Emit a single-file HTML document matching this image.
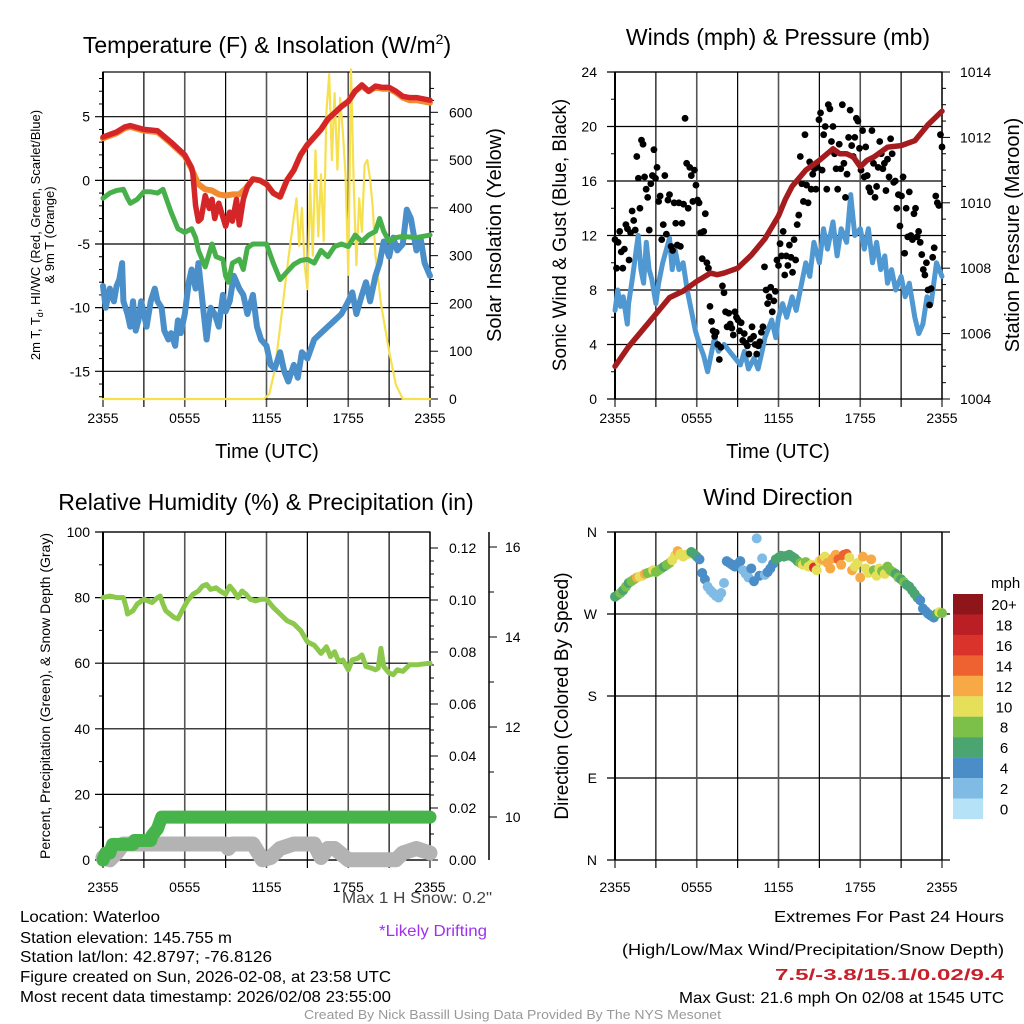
<!DOCTYPE html>
<html><head><meta charset="utf-8"><style>
html,body{margin:0;padding:0;background:#fff;}
svg{display:block;font-family:"Liberation Sans",sans-serif;}
</style></head><body>
<svg id="c" width="1024" height="1024" viewBox="0 0 1024 1024">
<g id="p1"></g>
<g id="p2"></g>
<g id="p3"></g>
<g id="p4"></g>
<g id="txt">
<text x="20" y="922" font-size="16" textLength="140" lengthAdjust="spacingAndGlyphs">Location: Waterloo</text>
<text x="20" y="943" font-size="16" textLength="212" lengthAdjust="spacingAndGlyphs">Station elevation: 145.755 m</text>
<text x="20" y="962" font-size="16" textLength="252" lengthAdjust="spacingAndGlyphs">Station lat/lon: 42.8797; -76.8126</text>
<text x="20" y="982" font-size="16" textLength="371" lengthAdjust="spacingAndGlyphs">Figure created on Sun, 2026-02-08, at 23:58 UTC</text>
<text x="20" y="1002" font-size="16" textLength="371" lengthAdjust="spacingAndGlyphs">Most recent data timestamp: 2026/02/08 23:55:00</text>
<text x="342" y="903" font-size="16" fill="#444" textLength="150" lengthAdjust="spacingAndGlyphs">Max 1 H Snow: 0.2"</text>
<text x="379" y="936" font-size="16" fill="#a030f0" textLength="108" lengthAdjust="spacingAndGlyphs">*Likely Drifting</text>
<text x="774" y="922" font-size="16" textLength="230" lengthAdjust="spacingAndGlyphs">Extremes For Past 24 Hours</text>
<text x="622" y="955" font-size="16" textLength="382" lengthAdjust="spacingAndGlyphs">(High/Low/Max Wind/Precipitation/Snow Depth)</text>
<text x="775" y="980" font-size="16" font-weight="bold" fill="#c8202a" textLength="229" lengthAdjust="spacingAndGlyphs">7.5/-3.8/15.1/0.02/9.4</text>
<text x="679" y="1003" font-size="16" textLength="325" lengthAdjust="spacingAndGlyphs">Max Gust: 21.6 mph On 02/08 at 1545 UTC</text>
<text x="304" y="1019" font-size="13" fill="#999" textLength="417" lengthAdjust="spacingAndGlyphs">Created By Nick Bassill Using Data Provided By The NYS Mesonet</text>
</g>
</svg>
<script>
// ---------- DATA ----------
const xTickLabels=["2355","0555","1155","1755","2355"];
// Panel 1
const tempT=[0,1,1.6,2,3,4,5,6,6.5,6.6,6.8,7,7.2,7.5,7.8,8,8.2,8.5,9,9.3,9.5,9.8,10,10.3,10.6,11,11.5,12,12.5,13,13.5,14,14.5,15,15.5,16,16.5,17,17.5,18,18.5,19,19.5,20,20.5,21,21.5,22,22.5,23,24];
const tempV=[3.4,3.8,4.2,4.3,4.0,3.9,3.0,2.0,1.0,0.5,-2.0,-3.2,-3.0,-1.2,-2.2,-1.5,-3.0,-1.8,-3.6,-2.5,-3.2,-1.5,-3.5,-1.5,-0.5,0.1,0,-0.3,-1.0,-1.3,0,0.8,2,2.8,3.4,4.0,4.8,5.3,5.8,6.2,7.0,7.5,7.0,7.4,7.3,7.3,7.0,6.6,6.5,6.5,6.3];
const t9mT=[0,1,1.6,2,3,4,5,6,6.5,7,7.5,8,8.5,9,9.5,10,10.5,11,11.5,12,12.5,13,13.5,14,14.5,15,15.5,16,16.5,17,17.5,18,18.5,19,19.5,20,20.5,21,21.5,22,22.5,23,24];
const t9mV=[3.3,3.7,4.1,4.2,3.9,3.8,2.9,1.9,0.9,-0.3,-0.7,-0.8,-1.1,-1.2,-1.1,-1.1,-0.6,0.1,0,-0.3,-1.0,-1.3,0,0.8,2,2.8,3.4,4.0,4.8,5.3,5.8,6.2,7.0,7.4,7.0,7.3,7.2,7.2,6.9,6.5,6.3,6.3,6.1];
const dewT=[0,0.5,1,1.5,1.8,2,2.5,3,3.5,4,4.4,5,5.5,6,6.5,6.8,7,7.5,8,8.3,8.8,9,9.2,9.5,10,10.3,10.6,11,12,12.5,13,13.5,14,14.5,15,15.5,16,16.5,17,17.5,18,18.5,19,19.5,20,20.3,20.6,21,21.5,22,23,24];
const dewV=[-1.4,-1.0,-0.8,-0.7,-1.4,-1.8,-1.5,-0.9,-0.9,-1.0,-0.7,-2.5,-3.8,-4.1,-3.8,-4.5,-5.5,-6.8,-5.0,-6.0,-6.2,-7.5,-8.0,-6.5,-6.2,-7.0,-5.3,-5.0,-5.0,-6.5,-7.8,-7.2,-6.6,-6.3,-6.2,-6.5,-5.5,-6.0,-5.2,-5.0,-5.2,-4.3,-4.8,-4.3,-4.0,-3.0,-4.0,-4.8,-4.5,-4.4,-4.5,-4.3];
const wcT=[0,0.2,0.5,0.8,1,1.2,1.4,1.5,1.8,2,2.2,2.4,2.6,2.8,3,3.2,3.5,3.8,4,4.3,4.5,4.8,5,5.3,5.5,5.7,6,6.3,6.5,6.8,7,7.2,7.4,7.6,7.9,8.2,8.5,8.8,9,9.3,9.6,10,10.3,10.6,11,11.3,11.6,12,12.3,12.6,13,13.3,13.6,14,14.3,14.6,15,15.5,16,16.5,17,17.5,18,18.3,18.6,19,19.3,19.6,20,20.3,20.6,21,21.3,21.6,22,22.3,22.6,23,23.3,23.6,24];
const wcV=[-8.3,-10.0,-8.5,-9.5,-8.3,-7.8,-6.5,-9.5,-10.5,-11.5,-9.5,-11.8,-11.0,-9.5,-10.5,-11.5,-9.5,-8.5,-9.5,-10.0,-11.8,-12.5,-12.0,-13.0,-11.0,-12.0,-10.5,-8.0,-7.0,-8.5,-6.5,-8.5,-10.5,-12.5,-10.0,-10.5,-11.5,-9.0,-10.3,-9.5,-7.5,-8.5,-9.0,-10.5,-9.0,-11.5,-12.5,-13.0,-14.5,-14.8,-13.5,-15.0,-15.8,-14.5,-15.5,-13.5,-14.0,-12.5,-12.0,-11.5,-11.0,-10.5,-9.5,-8.8,-10.5,-9.0,-8.0,-9.5,-7.5,-6.5,-4.8,-6.0,-4.5,-5.5,-5.0,-2.3,-3.0,-5.5,-4.5,-6.5,-7.5];
const solarT=[0,11.8,12.2,12.6,13,13.5,14,14.2,14.4,14.6,14.8,15,15.2,15.4,15.6,15.8,16,16.2,16.4,16.6,16.8,17,17.2,17.4,17.6,17.8,18,18.2,18.4,18.6,18.8,19,19.2,19.4,19.6,19.8,20,20.4,21,21.5,22,24];
const solarV=[0,0,10,60,150,270,380,420,320,400,280,230,450,300,520,340,470,330,600,680,500,640,480,630,560,470,260,690,450,280,420,350,490,500,460,400,300,200,100,30,0,0];
// Panel 2
const presT=[0,1,2,3,4,5,6,7,7.5,8,9,10,11,12,12.5,13,14,15,16,16.5,17,17.5,18,18.5,19,20,21,22,23,24];
const presV=[1005.0,1005.6,1006.1,1006.6,1007.1,1007.3,1007.6,1007.85,1007.8,1007.85,1008.0,1008.4,1008.9,1009.6,1010.1,1010.5,1011.0,1011.3,1011.65,1011.5,1011.5,1011.4,1011.1,1011.3,1011.4,1011.7,1011.75,1011.9,1012.4,1012.8];
const windT=[0,0.2,0.4,0.6,0.9,1,1.3,1.5,1.7,1.9,2.1,2.3,2.5,2.7,3,3.2,3.5,4,4.2,4.4,4.7,5,5.3,5.6,5.9,6.2,6.5,6.8,7,7.3,7.6,8,8.4,8.8,9.2,9.5,9.8,10.2,10.5,10.8,11,11.5,11.8,12,12.3,12.6,13,13.3,13.6,14,14.3,14.6,15,15.3,15.6,16,16.3,16.6,17,17.3,17.6,18,18.3,18.6,18.9,19.2,19.5,19.8,20,20.3,20.6,21,21.3,21.6,22,22.3,22.6,22.9,23.2,23.6,24];
const windV=[6.5,8.0,6.8,7.5,5.5,7.0,9.0,10.5,12.0,9.5,8.5,11.5,9.5,8.8,7.0,8.5,10.0,11.8,9.5,11.0,9.5,10.0,8.0,6.5,5.0,4.0,3.2,2.0,3.0,4.5,3.5,4.0,3.5,3.0,2.5,3.5,2.2,3.0,2.2,3.5,4.5,5.8,4.5,6.0,7.0,6.0,7.5,6.5,8.0,10.0,9.0,11.5,10.0,12.5,11.0,13.0,10.5,12.5,11.5,15.0,12.0,12.5,11.0,12.5,10.0,11.5,9.5,10.5,8.5,9.5,8.0,9.0,7.5,8.5,6.0,4.8,5.5,7.5,7.0,10.0,9.0];
const gustV=[11.7,9.6,11.5,12.3,10.8,9.6,11.0,12.8,12.5,10.2,12.2,13.8,13.1,12.4,17.8,16.2,14.0,19.0,18.7,16.3,15.4,14.8,12.4,15.8,16.4,18.3,16.2,17.0,14.5,14.9,11.7,12.8,16.4,12.1,14.6,15.0,11.2,10.9,14.4,12.9,11.3,14.4,11.2,12.9,14.3,20.6,17.3,14.0,17.0,16.4,14.5,16.8,15.7,14.6,14.4,12.2,10.3,12.3,13.6,10.0,9.6,6.8,5.7,5.0,4.6,4.9,4.0,2.9,3.8,8.3,7.8,6.4,5.3,6.3,5.5,5.2,4.7,6.4,6.0,5.8,5.0,5.6,4.3,4.8,4.1,3.9,3.3,4.4,5.3,4.6,4.0,3.3,3.9,4.2,4.9,5.3,9.7,8.0,7.0,7.5,8.2,6.4,7.2,7.9,10.2,9.8,11.4,10.5,12.3,9.1,10.5,9.8,11.3,10.4,9.3,11.7,10.2,12.8,13.5,17.8,15.8,14.5,19.4,15.7,14.4,17.4,15.4,16.5,16.9,15.4,17.0,20.5,21.0,16.8,19.4,20.0,15.4,21.6,21.3,18.9,20.0,18.0,16.9,15.4,18.7,16.9,21.6,17.3,14.8,16.5,19.2,21.2,18.6,17.8,19.2,20.6,20.4,18.4,16.8,19.7,16.3,18.5,16.4,15.5,15.2,19.7,17.3,14.8,15.6,17.0,18.9,18.0,16.9,17.3,15.3,17.6,16.3,19.1,18.0,15.9,16.0,14.0,15.0,12.7,14.9,16.3,10.7,14.0,11.9,15.2,12.0,11.7,13.6,14.0,11.9,12.3,11.5,10.6,9.5,9.1,10.0,8.0,6.9,8.1,10.4,11.1,14.9,14.4,14.2,19.4,18.5];
// Panel 3
const rhT=[0,0.5,1,1.5,1.7,1.8,2.2,2.5,3,3.3,3.6,4,4.2,4.4,4.6,4.9,5.2,5.5,5.8,6.2,6.6,7,7.3,7.6,7.9,8.3,8.6,9,9.3,9.6,9.9,10.2,10.5,10.8,11.2,11.6,12,12.5,13,13.5,14,14.5,15,15.5,16,16.4,16.7,17,17.3,17.6,18,18.3,18.7,19,19.3,19.7,20,20.2,20.4,20.6,21,21.3,21.6,22,22.5,23,24];
const rhV=[80,80.5,80,80,77,75,76,78,79.5,79,78.5,80,80.5,78,76,75,74,73.5,76,79,81,82,83.5,84,82.5,83,82,81,83.5,82,80,82,81,79.5,79,79.5,79.5,77,75,73,72,70,66.5,65.5,63,65,62,63.5,60.5,61,58,61,61.5,62.5,59,58.5,58,58.5,64.5,59,57,56.5,58,57.5,59.5,59.5,60];
const precipT=[0,0.2,0.5,0.7,2.2,2.3,3.5,3.6,4.0,4.3,24];
const precipV=[0,0.0027,0.0027,0.006,0.006,0.0075,0.0075,0.0095,0.012,0.0165,0.0165];
const snowT=[0,0.5,1,1.5,2,5,9,9.2,9.5,11,11.7,12.3,13,14,15.5,16,16.5,17,18,21.5,22,23,24];
const snowV=[9.1,9.05,9.2,9.4,9.4,9.4,9.4,9.3,9.4,9.4,9.05,9.1,9.3,9.4,9.4,9.1,9.3,9.3,9.05,9.05,9.2,9.3,9.2];
// Panel 4
const dirV=[289,291,293,296,300,304,306,308,310,311,312,314,315,316,318,316,318,320,322,324,326,329,334,339,336,333,335,336,338,336,333,330,315,308,300,296,293,290,288,293,304,328,326,324,322,325,328,318,314,310,320,306,353,312,331,313,316,320,325,330,332,334,333,334,335,333,331,328,326,324,327,322,324,321,318,328,330,333,326,320,331,335,330,324,335,336,332,318,322,326,310,333,320,315,330,318,312,320,317,314,322,318,316,314,310,308,305,302,300,296,292,288,285,276,273,270,268,266,270,272,271];
const dirS=[7,7,8,7,8,7,8,8,12,10,10,12,8,8,10,9,8,8,7,8,9,10,10,12,10,10,11,10,7,7,6,5,4,4,3,3,2,2,2,3,3,4,4,4,4,4,4,3,3,3,4,4,2,4,2,3,4,4,5,6,6,7,6,6,7,6,6,7,9,10,9,10,10,16,11,10,12,10,12,13,13,12,14,12,14,15,11,12,10,11,13,12,11,10,12,9,10,10,9,10,8,8,8,7,8,7,8,7,7,6,6,6,5,5,4,4,4,5,6,10,9];
const cbLabels=["20+","18","16","14","12","10","8","6","4","2","0"];
const cbColors=["#8e161b","#bb1f26","#da332b","#ee6130","#f6a945","#e6df5a","#7cc04a","#4aa570","#4b8ec7","#80bbe5","#b5e2f6"];

// ---------- HELPERS ----------
const NS="http://www.w3.org/2000/svg";
function el(parent,tag,attrs,text){const e=document.createElementNS(NS,tag);for(const k in attrs)e.setAttribute(k,attrs[k]);if(text!==undefined)e.textContent=text;parent.appendChild(e);return e;}
function lin(d0,d1,r0,r1){return v=>r0+(v-d0)*(r1-r0)/(d1-d0);}
function pathD(ts,vs,sx,sy){return ts.map((t,i)=>(i?"L":"M")+sx(t).toFixed(1)+","+sy(vs[i]).toFixed(1)).join("");}

function frame(g,x0,y0,x1,y1,lbly){
  for(let i=0;i<=8;i++){const x=x0+(x1-x0)*i/8;
    const l=el(g,"line",{x1:x,y1:y0,x2:x,y2:y1+8,stroke:i%2?"#000":"#555","stroke-width":i%2?1.2:1.6});
    
    
  }
  xTickLabels.forEach((s,i)=>{const t=el(g,"text",{x:x0+(x1-x0)*i/4,y:lbly,"font-size":14,"text-anchor":"middle"},s);
    
    });
  el(g,"rect",{x:x0,y:y0,width:x1-x0,height:y1-y0,fill:"none",stroke:"#000","stroke-width":1.2});
  el(g,"line",{x1:x0,y1:y0,x2:x0,y2:y1,stroke:"#000","stroke-width":2});
}
function hgrid(g,x0,x1,y,label,lx){const l=el(g,"line",{x1:x0-8,y1:y,x2:x1,y2:y,stroke:"#000","stroke-width":1.2});
  
  
  if(label!==undefined){const t=el(g,"text",{x:lx,y:y+5,"font-size":14,"text-anchor":"end"},label);
  
  }}
function rtick(g,x,y,len,label,lx){el(g,"line",{x1:x,y1:y,x2:x+len,y2:y,stroke:"#000","stroke-width":1});
  if(label!==undefined){const t=el(g,"text",{x:lx,y:y+5,"font-size":14},label);
  
  }}
function vtitle(g,x,y,size,s,name){const t=el(g,"text",{x:x,y:y,"font-size":size,"text-anchor":"middle",transform:`rotate(-90 ${x} ${y})`},s);
  return t;}
function series(g,d,color,w,name){const p=el(g,"path",{d:d,fill:"none",stroke:color,"stroke-width":w,"stroke-linejoin":"round","stroke-linecap":"round"});
  return p;}

// ---------- PANEL 1 ----------
(function(){const g=document.getElementById("p1");
const X0=103,X1=430,Y0=72,Y1=399;
const sx=lin(0,24,X0,X1), sy=lin(-15,5,371.3,116.7), sr=lin(0,600,399,112.3);
const tt=el(g,"text",{x:267,y:53,"font-size":23,"text-anchor":"middle"});

tt.innerHTML='Temperature (F) &amp; Insolation (W/m<tspan dy="-9" font-size="14">2</tspan><tspan dy="9">)</tspan>';
[5,0,-5,-10,-15].forEach(v=>hgrid(g,X0,X1,sy(v),String(v),90));
for(let v=-17;v<=8;v++){if(v%5)el(g,"line",{x1:X0-4,y1:sy(v),x2:X0,y2:sy(v),stroke:"#000"});}
frame(g,X0,Y0,X1,Y1,423);
for(let v=0;v<=650;v+=25){rtick(g,X1,sr(v),v%100?4:8,v%100?undefined:String(v),449);}
vtitle(g,40,235,13,"2m T, T",'left-axis-title').innerHTML='2m T, T<tspan font-size="9" dy="3">d</tspan><tspan dy="-3">, HI/WC (Red, Green, Scarlet/Blue)</tspan>';
vtitle(g,54,235,13,"& 9m T (Orange)",'left-axis-title-line2');
vtitle(g,501,235,20,"Solar Insolation (Yellow)",'right-axis-title');
const xt=el(g,"text",{x:267,y:458,"font-size":20,"text-anchor":"middle"},"Time (UTC)");
series(g,pathD(solarT,solarV,sx,sr),"#f7e04f",2.2,'solar-insolation-line');
series(g,pathD(wcT,wcV,sx,sy),"#4a8fc9",6,'wind-chill-line');
series(g,pathD(dewT,dewV,sx,sy),"#48b04a",5,'dewpoint-line');
series(g,pathD(t9mT,t9mV,sx,sy),"#f28a30",6,'temp-9m-line');
series(g,pathD(tempT,tempV,sx,sy),"#d42528",5.5,'temp-2m-line');
})();

// ---------- PANEL 2 ----------
(function(){const g=document.getElementById("p2");
const X0=615,X1=942,Y0=72,Y1=399;
const sx=lin(0,24,X0,X1), sy=lin(0,24,Y1,Y0), sp=lin(1004,1014,Y1,Y0);
const tt=el(g,"text",{x:778,y:45,"font-size":23,"text-anchor":"middle"},"Winds (mph) & Pressure (mb)");

for(let v=0;v<=24;v+=4)hgrid(g,X0,X1,sy(v),String(v),597);
for(let v=2;v<24;v+=4)el(g,"line",{x1:X0-4,y1:sy(v),x2:X0,y2:sy(v),stroke:"#000"});
frame(g,X0,Y0,X1,Y1,423);
for(let v=1004;v<=1014;v+=0.5){const m=Math.abs(v%2)<1e-6;rtick(g,X1,sp(v),m?8:4,m?String(v):undefined,960);}
vtitle(g,566,235,19,"Sonic Wind & Gust (Blue, Black)",'left-axis-title');
vtitle(g,1019,235,20,"Station Pressure (Maroon)",'right-axis-title');
const xt=el(g,"text",{x:778,y:458,"font-size":20,"text-anchor":"middle"},"Time (UTC)");
series(g,pathD(windT,windV,sx,sy),"#4f98d2",5,'sonic-wind-line');
gustV.forEach((v,i)=>{const c=el(g,"circle",{cx:sx(i*24/(gustV.length-1)),cy:sy(v),r:3.4,fill:"#000"});
  
  });
series(g,pathD(presT,presV,sx,sp),"#a51c1f",5.5,'pressure-line');
})();

// ---------- PANEL 3 ----------
(function(){const g=document.getElementById("p3");
const X0=103,X1=430,Y0=532,Y1=860;
const sx=lin(0,24,X0,X1), sy=lin(0,100,Y1,Y0), sp=lin(0,0.02,Y1,808), ss=lin(10,16,817,547);
const tt=el(g,"text",{x:266,y:510,"font-size":23,"text-anchor":"middle"},"Relative Humidity (%) & Precipitation (in)");

for(let v=0;v<=100;v+=20)hgrid(g,X0,X1,sy(v),String(v),90);
for(let v=10;v<100;v+=20)el(g,"line",{x1:X0-4,y1:sy(v),x2:X0,y2:sy(v),stroke:"#000"});
frame(g,X0,Y0,X1,Y1,892);
for(let v=0;v<=0.125;v+=0.005){const m=Math.round(v*1000)%20===0;rtick(g,X1,sp(v),m?8:4,m?v.toFixed(2):undefined,449);}
const ax=el(g,"line",{x1:489,y1:Y0,x2:489,y2:Y1,stroke:"#000","stroke-width":1.5});
for(let v=10;v<=16;v++){const m=v%2===0;rtick(g,489,ss(v),m?8:5,m?String(v):undefined,505);}
vtitle(g,50,696,14,"Percent, Precipitation (Green), & Snow Depth (Gray)",'left-axis-title');
series(g,pathD(snowT,snowV,sx,ss),"#b3b3b3",15,'snow-depth-line');
series(g,pathD(precipT,precipV,sx,sp),"#46b44a",13,'precipitation-line');
series(g,pathD(rhT,rhV,sx,sy),"#8cc84b",5,'humidity-line');
})();

// ---------- PANEL 4 ----------
(function(){const g=document.getElementById("p4");
const X0=615,X1=942,Y0=532,Y1=860;
const sx=lin(0,24,X0,X1), sy=lin(0,360,Y1,Y0);
const tt=el(g,"text",{x:778,y:505,"font-size":23,"text-anchor":"middle"},"Wind Direction");

["N","E","S","W","N"].forEach((s,i)=>hgrid(g,X0,X1+8,sy(i*90),s,597));
frame(g,X0,Y0,X1,Y1,892);
vtitle(g,568,696,19,"Direction (Colored By Speed)",'left-axis-title');
dirV.forEach((d,i)=>{const k=Math.min(10,Math.floor(dirS[i]/2));
  const c=el(g,"circle",{cx:sx(i*24/(dirV.length-1)),cy:sy(d),r:5,fill:cbColors[10-k]});
  
  });
const u=el(g,"text",{x:991,y:588,"font-size":15},"mph");
cbLabels.forEach((s,i)=>{const y=594+i*20.45;
  const r=el(g,"rect",{x:953,y:y,width:30,height:20.6,fill:cbColors[i]});
  
  
  const t=el(g,"text",{x:1004,y:y+16,"font-size":15,"text-anchor":"middle"},s);
  
  });
})();
</script>
</body></html>
